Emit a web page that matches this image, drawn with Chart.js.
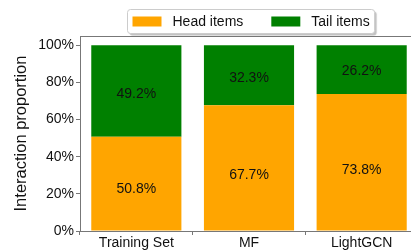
<!DOCTYPE html>
<html>
<head>
<meta charset="utf-8">
<script src="https://cdn.jsdelivr.net/npm/chart.js@4.4.1/dist/chart.umd.min.js"></script>
<style>
html, body { margin: 0; padding: 0; overflow: hidden; background: #fff; }
#wrap { width: 418px; height: 250px; position: relative; }
</style>
</head>
<body>
<div id="wrap"><canvas id="chart"></canvas></div>
<script>
// Values
const categories = ['Training Set', 'MF', 'LightGCN'];
const headItems = [50.8, 67.7, 73.8];
const tailItems = [49.2, 32.3, 26.2];
const yTicks = [0, 20, 40, 60, 80, 100];

const FONT = 'Liberation Sans, Arial, sans-serif';
const AXIS_COLOR = '#777';

// Percent labels inside each bar segment
const barLabels = {
    id: 'barLabels',
    afterDatasetsDraw(chart) {
        const ctx = chart.ctx;
        ctx.save();
        ctx.font = '14px ' + FONT;
        ctx.fillStyle = '#111';
        ctx.textAlign = 'center';
        ctx.textBaseline = 'middle';
        chart.data.datasets.forEach((ds, i) => {
            const frac = ds.labelFrac;
            chart.getDatasetMeta(i).data.forEach((bar, j) => {
                const y = bar.base + (bar.y - bar.base) * frac;
                ctx.fillText(ds.data[j].toFixed(1) + '%', bar.x, y);
            });
        });
        ctx.restore();
    }
};

// Top spine and framed legend
const frame = {
    id: 'frame',
    afterDraw(chart) {
        const ctx = chart.ctx;
        const area = chart.chartArea;
        ctx.save();
        ctx.strokeStyle = AXIS_COLOR;
        ctx.lineWidth = 1;
        ctx.beginPath();
        ctx.moveTo(area.left, area.top + 0.5);
        ctx.lineTo(area.right, area.top + 0.5);
        ctx.stroke();

        ctx.font = '14px ' + FONT;
        const items = chart.data.datasets.map(ds => ({
            label: ds.label, color: ds.backgroundColor, w: ctx.measureText(ds.label).width
        }));
        const pad = 5, sw = 29, sh = 10, gap = 11, between = 28;
        let total = pad * 2;
        items.forEach((it, k) => { total += sw + gap + it.w + (k ? between : 0); });
        const cx = (area.left + area.right) / 2 + 2;
        const x0 = Math.round(cx - total / 2) + 0.5, y0 = 9.5, h = 24;

        ctx.shadowColor = 'rgba(0,0,0,0.25)';
        ctx.shadowOffsetX = 2;
        ctx.shadowOffsetY = 2;
        ctx.shadowBlur = 1;
        ctx.fillStyle = '#fff';
        ctx.beginPath();
        ctx.roundRect(x0, y0, total, h, 3);
        ctx.fill();
        ctx.shadowColor = 'transparent';
        ctx.strokeStyle = '#ccc';
        ctx.stroke();

        let x = x0 + pad;
        const yc = y0 + h / 2;
        ctx.textBaseline = 'middle';
        items.forEach((it, k) => {
            if (k) x += between;
            ctx.fillStyle = it.color;
            ctx.fillRect(x, yc - sh / 2, sw, sh);
            x += sw + gap;
            ctx.fillStyle = '#111';
            ctx.fillText(it.label, x, yc + 1);
            x += it.w;
        });
        ctx.restore();
    }
};

new Chart(document.getElementById('chart'), {
    type: 'bar',
    data: {
        labels: categories,
        datasets: [
            { label: 'Head items', data: headItems, backgroundColor: '#FFA500', labelFrac: 0.44 },
            { label: 'Tail items', data: tailItems, backgroundColor: '#008000', labelFrac: 0.46 }
        ]
    },
    options: {
        responsive: true,
        maintainAspectRatio: false,
        animation: false,
        layout: { padding: { top: 36, right: 0 } },
        datasets: { bar: { barPercentage: 0.8, categoryPercentage: 1.0 } },
        plugins: { legend: { display: false }, tooltip: { enabled: false } },
        scales: {
            x: {
                stacked: true,
                afterFit(scale) { scale.height = 19; },
                grid: { display: true, drawOnChartArea: false, tickLength: 4, color: AXIS_COLOR },
                border: { color: AXIS_COLOR },
                ticks: { color: '#111', font: { family: FONT, size: 14 }, padding: 0, maxRotation: 0 }
            },
            y: {
                stacked: true,
                min: 0,
                max: 105,
                afterFit(scale) { scale.width = 80; },
                afterBuildTicks(scale) { scale.ticks = yTicks.map(v => ({ value: v })); },
                grid: { display: true, drawOnChartArea: false, tickLength: 4, color: AXIS_COLOR },
                border: { color: AXIS_COLOR },
                ticks: {
                    color: '#111',
                    font: { family: FONT, size: 14 },
                    padding: 2,
                    callback: v => v + '%'
                },
                title: {
                    display: true,
                    text: 'Interaction proportion',
                    color: '#111',
                    font: { family: FONT, size: 16.5 },
                    padding: { top: 12, bottom: 0 }
                }
            }
        }
    },
    plugins: [barLabels, frame]
});
</script>
</body>
</html>
